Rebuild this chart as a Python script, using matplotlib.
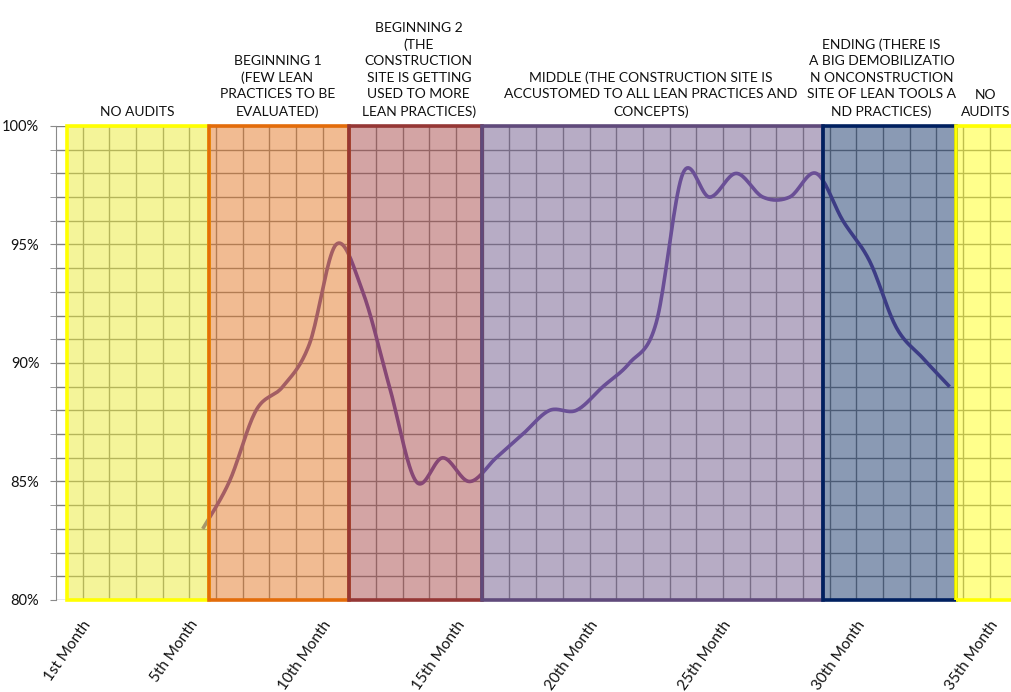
import matplotlib.pyplot as plt
from matplotlib.patches import Rectangle
import numpy as np

plt.rcParams['font.family'] = ['Lato', 'DejaVu Sans']

# Audit score per month, first audit in month 6
score = [83, 85, 88, 89, 90.8, 95, 93, 89, 85, 86, 85, 86, 87, 88, 88,
         89, 90, 91.7, 98, 97, 98, 97, 97, 98, 96, 94.3, 91.5, 90.2, 89]

month_ticks = [1, 5, 10, 15, 20, 25, 30, 35]
month_labels = ["1st Month", "5th Month", "10th Month", "15th Month",
                "20th Month", "25th Month", "30th Month", "35th Month"]

# project stages
stage_start = [0.4, 5.72, 11.0, 15.96, 28.75, 33.74]
stage_end = [5.72, 11.0, 15.96, 28.75, 33.74, 37.0]
stage_fill = ["#ebeb35", "#e57927", "#a94b4b", "#715b8d", "#17376b", "#ffff19"]
stage_edge = ["#ffff00", "#e36c0a", "#953735", "#604a7b", "#002060", "#ffff00"]
stage_text = [
    "NO AUDITS",
    "BEGINNING 1\n(FEW LEAN\nPRACTICES TO BE\nEVALUATED)",
    "BEGINNING 2\n(THE\nCONSTRUCTION\nSITE IS GETTING\nUSED TO MORE\nLEAN PRACTICES)",
    "MIDDLE (THE CONSTRUCTION SITE IS\nACCUSTOMED TO ALL LEAN PRACTICES AND\nCONCEPTS)",
    "ENDING (THERE IS\nA BIG DEMOBILIZATIO\nN ONCONSTRUCTION\nSITE OF LEAN TOOLS A\nND PRACTICES)",
    "NO\nAUDITS",
]
label_x = [3.05, 8.3, 13.6, 22.3, 30.95, 34.85]


def smooth(xs, ys, steps=20):
    # bezier smoothing through every point, like a spreadsheet "smoothed line"
    px = np.concatenate([[xs[0]], xs, [xs[-1]]])
    py = np.concatenate([[ys[0]], ys, [ys[-1]]])
    out_x, out_y = [], []
    t = np.linspace(0, 1, steps, endpoint=False)
    for i in range(1, len(px) - 2):
        p0, p1, p2, p3 = (np.array([px[j], py[j]]) for j in range(i - 1, i + 3))
        c1 = p1 + (p2 - p0) / 6
        c2 = p2 - (p3 - p1) / 6
        seg = ((1 - t) ** 3)[:, None] * p1 + (3 * (1 - t) ** 2 * t)[:, None] * c1 \
            + (3 * (1 - t) * t ** 2)[:, None] * c2 + (t ** 3)[:, None] * p2
        out_x.extend(seg[:, 0])
        out_y.extend(seg[:, 1])
    out_x.append(xs[-1])
    out_y.append(ys[-1])
    return out_x, out_y


fig = plt.figure(figsize=(10.11, 6.92), dpi=100)
ax = fig.add_axes([56 / 1011, 92 / 692, 1 - 56 / 1011, 474 / 692])
ax.set_xlim(0, 35.8)
ax.set_ylim(80, 100)

# grid under the stage boxes
for m in range(1, 36):
    ax.axvline(m, color="#808080", lw=1, zorder=1)
for p in range(80, 101):
    ax.axhline(p, color="#808080", lw=1, zorder=1)

x = np.arange(len(score)) + 5.5
sx, sy = smooth(x, np.array(score, dtype=float))
ax.plot(sx, sy, color="#6343a0", lw=2.6, zorder=2, solid_capstyle="butt")

for s, e, fc, ec in zip(stage_start, stage_end, stage_fill, stage_edge):
    ax.add_patch(Rectangle((s, 80), e - s, 20, facecolor=fc, alpha=0.5,
                           edgecolor="none", zorder=3))
    ax.add_patch(Rectangle((s, 80), e - s, 20, facecolor="none",
                           edgecolor=ec, lw=2.6, zorder=4, clip_on=False))

for tx, t in zip(label_x, stage_text):
    ax.text(tx, 100.35, t, ha="center", va="bottom", fontsize=10,
            linespacing=1.45, color="#111111", clip_on=False)

for spine in ["top", "right", "bottom"]:
    ax.spines[spine].set_visible(False)
ax.spines["left"].set_color("#8a8a8a")

ax.set_yticks(range(80, 101, 5))
ax.set_yticklabels([f"{p}%" for p in range(80, 101, 5)])
ax.set_yticks(range(80, 101), minor=True)
ax.tick_params(axis="y", which="both", length=4, color="#8a8a8a",
               labelsize=10.5, labelcolor="#111111", pad=8)

ax.set_xticks(month_ticks)
ax.set_xticklabels(month_labels, rotation=55, ha="right", va="top",
                   rotation_mode="anchor")
ax.tick_params(axis="x", length=0, labelsize=11, labelcolor="#111111", pad=13)

fig.savefig("out.png", dpi=100)
